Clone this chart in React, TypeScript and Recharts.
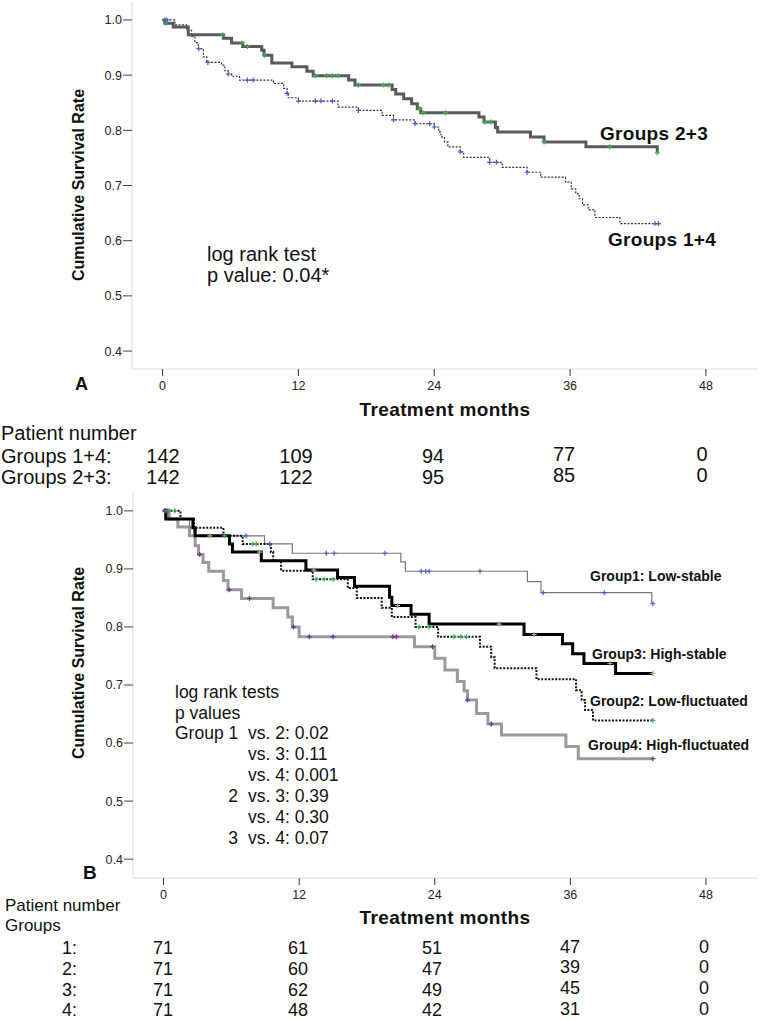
import React from 'react'
import { ComposedChart, Line, Scatter, XAxis, YAxis } from 'recharts'

const FONT = '"Liberation Sans", Arial, sans-serif'

// axis ticks shared by both panels
const monthTicks = [0, 12, 24, 36, 48]
const survTicks = [0.4, 0.5, 0.6, 0.7, 0.8, 0.9, 1.0]
const monthDomain: [number, number] = [-2.7, 52.6]
const survDomain: [number, number] = [0.3675, 1.0325]

// Panel A  [month, survival]
const groups23: [number, number][] = [
  [0, 1.0], [0.2, 0.994], [0.94, 0.987], [2.27, 0.973], [5.37, 0.967], [6.1, 0.958],
  [7.08, 0.952], [8.76, 0.945], [8.97, 0.936], [9.65, 0.922], [11.43, 0.915], [12.75, 0.907],
  [13.3, 0.899], [16.44, 0.891], [17.0, 0.882], [20.28, 0.874], [20.6, 0.866], [21.3, 0.857],
  [22.0, 0.848], [22.5, 0.839], [22.8, 0.832], [27.95, 0.824], [28.4, 0.815], [29.4, 0.805],
  [29.6, 0.797], [32.5, 0.788], [33.7, 0.779], [37.4, 0.77], [43.7, 0.759],
]
const groups14: [number, number][] = [
  [0, 1.0], [1.09, 0.991], [2.12, 0.981], [2.56, 0.97], [2.86, 0.959], [3.16, 0.948],
  [3.6, 0.933], [3.9, 0.923], [5.2, 0.918], [5.5, 0.908], [5.8, 0.902], [6.1, 0.898],
  [6.8, 0.891], [9.8, 0.885], [10.7, 0.876], [11.0, 0.867], [11.1, 0.859], [12.0, 0.853],
  [15.5, 0.842], [17.3, 0.836], [19.4, 0.827], [20.4, 0.819], [22.3, 0.812], [24.0, 0.806],
  [24.4, 0.797], [24.6, 0.788], [24.9, 0.779], [25.2, 0.77], [26.3, 0.761], [26.6, 0.751],
  [28.9, 0.742], [30.0, 0.733], [32.2, 0.724], [33.4, 0.715], [35.6, 0.706], [36.1, 0.694],
  [36.5, 0.685], [36.8, 0.676], [37.1, 0.665], [37.6, 0.656], [38.2, 0.642], [40.4, 0.631],
  [43.9, 0.631],
]
const groups23Censor = [0.3, 5.3, 7.0, 7.5, 9.0, 13.5, 14.5, 15.0, 15.5, 17.3, 19.5, 20.0, 22.7, 23.0, 25.0, 28.5, 29.0, 33.7, 39.5, 43.7]
const groups14Censor = [0.2, 0.4, 3.2, 4.0, 5.8, 7.5, 8.0, 11.0, 12.0, 13.5, 14.0, 15.0, 17.3, 20.4, 22.3, 23.6, 24.0, 26.3, 28.9, 29.5, 32.2, 43.5, 43.8]

// Panel B
const group1: [number, number][] = [
  [0, 1.0], [0.4, 0.986], [2.3, 0.971], [2.7, 0.957], [8.94, 0.943], [11.4, 0.927],
  [21.0, 0.912], [21.4, 0.896], [32.2, 0.878], [33.4, 0.859], [43.2, 0.84],
]
const group2: [number, number][] = [
  [0, 1.0], [1.5, 0.986], [2.7, 0.971], [5.3, 0.957], [7.0, 0.943], [9.5, 0.929],
  [9.7, 0.914], [10.4, 0.897], [13.2, 0.882], [16.3, 0.867], [17.1, 0.85], [19.3, 0.833],
  [20.2, 0.817], [22.3, 0.8], [24.3, 0.783], [28.0, 0.766], [29.0, 0.748], [29.3, 0.729],
  [33.0, 0.71], [36.5, 0.691], [37.0, 0.674], [37.3, 0.657], [38.0, 0.639], [43.3, 0.639],
]
const group3: [number, number][] = [
  [0, 1.0], [0.2, 0.986], [2.6, 0.971], [2.8, 0.957], [5.84, 0.943], [6.1, 0.929],
  [8.65, 0.914], [12.6, 0.898], [15.4, 0.885], [16.9, 0.87], [20.0, 0.851], [20.2, 0.837],
  [21.9, 0.822], [23.5, 0.805], [31.9, 0.787], [35.3, 0.771], [36.2, 0.754], [37.2, 0.737],
  [40.0, 0.72], [43.3, 0.72],
]
const group4: [number, number][] = [
  [0, 1.0], [0.5, 0.986], [1.27, 0.972], [2.3, 0.957], [2.8, 0.94], [3.1, 0.925],
  [3.5, 0.911], [4.0, 0.896], [5.3, 0.88], [5.7, 0.864], [6.9, 0.849], [9.7, 0.833],
  [11.0, 0.817], [11.4, 0.8], [12.0, 0.783], [22.2, 0.766], [24.0, 0.746], [24.9, 0.726],
  [26.0, 0.706], [26.6, 0.69], [26.9, 0.674], [27.7, 0.651], [28.7, 0.633], [29.9, 0.614],
  [35.6, 0.594], [36.7, 0.573], [43.3, 0.573],
]
const group1Censor = [0.2, 7.3, 9.4, 14.4, 15.1, 19.6, 22.8, 23.2, 23.5, 28.0, 33.6, 39.0, 43.3]
const group2Censor = [0.5, 1.0, 5.4, 7.9, 8.2, 13.5, 14.2, 15.0, 22.6, 23.5, 25.7, 26.3, 26.8, 43.3]
const group3Censor = [4.1, 8.5, 13.3, 20.7, 29.7, 32.8, 39.5, 43.3]
const group4Censor = [0.1, 0.3, 3.2, 5.8, 7.6, 11.5, 12.9, 15.0, 20.3, 20.6, 23.8, 26.9, 29.0, 43.3]

// number at risk
const riskLabelsA = ['Groups 1+4:', 'Groups 2+3:']
const riskA = [
  [142, 109, 94, 77, 0],
  [142, 122, 95, 85, 0],
]
const riskLabelsB = ['1:', '2:', '3:', '4:']
const riskB = [
  [71, 61, 51, 47, 0],
  [71, 60, 47, 39, 0],
  [71, 62, 49, 45, 0],
  [71, 48, 42, 31, 0],
]
const pValueLines = [
  ['Group 1', 'vs. 2: 0.02'],
  ['', 'vs. 3: 0.11'],
  ['', 'vs. 4: 0.001'],
  ['2', 'vs. 3: 0.39'],
  ['', 'vs. 4: 0.30'],
  ['3', 'vs. 4: 0.07'],
]

const toRows = (c: [number, number][]) => c.map(([t, s]) => ({ t, s }))
const survAt = (c: [number, number][], t: number) => {
  let s = c[0][1]
  for (const [ct, cs] of c) if (ct <= t) s = cs
  return s
}
const censorRows = (c: [number, number][], times: number[]) =>
  times.map((t) => ({ t, s: survAt(c, t) }))

const cross = (color: string) => (p: any) => {
  const { cx, cy } = p
  if (cx == null || cy == null) return <g />
  return (
    <path
      d={`M${cx - 2.5},${cy}H${cx + 2.5}M${cx},${cy - 2.5}V${cy + 2.5}`}
      stroke={color}
      strokeWidth={1.2}
    />
  )
}

interface CurveDef {
  data: [number, number][]
  censor: number[]
  stroke: string
  width: number
  dash?: string
  mark: string
}

function KMPanel({ top, marginTop, yAxisWidth, plotH, curves }: {
  top: number
  marginTop: number
  yAxisWidth: number
  plotH: number
  curves: CurveDef[]
}) {
  const tickStyle = { fontSize: 12.5, fill: '#222', fontFamily: FONT }
  return (
    <div style={{ position: 'absolute', left: 0, top }}>
      <ComposedChart
        width={761}
        height={marginTop + plotH + 30}
        margin={{ top: marginTop, right: 3, bottom: 0, left: 0 }}
      >
        <XAxis
          type="number"
          dataKey="t"
          domain={monthDomain}
          ticks={monthTicks}
          allowDataOverflow
          height={30}
          tickSize={7}
          tickMargin={5}
          axisLine={{ stroke: '#dcdcdc' }}
          tickLine={{ stroke: '#333' }}
          tick={tickStyle}
        />
        <YAxis
          type="number"
          domain={survDomain}
          ticks={survTicks}
          allowDataOverflow
          width={yAxisWidth}
          tickSize={9}
          tickMargin={1}
          axisLine={{ stroke: '#dcdcdc' }}
          tickLine={{ stroke: '#444' }}
          tick={tickStyle}
          tickFormatter={(v: number) => v.toFixed(1)}
        />
        {curves.map((c, i) => (
          <Line
            key={'l' + i}
            data={toRows(c.data)}
            dataKey="s"
            type="stepAfter"
            stroke={c.stroke}
            strokeWidth={c.width}
            strokeDasharray={c.dash}
            dot={false}
            activeDot={false}
            isAnimationActive={false}
          />
        ))}
        {curves.map((c, i) => (
          <Scatter
            key={'c' + i}
            data={censorRows(c.data, c.censor)}
            dataKey="s"
            shape={cross(c.mark)}
            isAnimationActive={false}
          />
        ))}
      </ComposedChart>
    </div>
  )
}

const T = ({ x, y, size, bold, anchor, spacing, children }: any) => (
  <text
    x={x}
    y={y}
    fontSize={size}
    fontWeight={bold ? 'bold' : 'normal'}
    textAnchor={anchor || 'start'}
    dominantBaseline="central"
    letterSpacing={spacing || 0}
    fill="#111"
    fontFamily={FONT}
  >
    {children}
  </text>
)

export default function App() {
  const colsA = [163, 296, 433, 564, 702]
  const colsB = [163, 298, 432, 570, 704]
  return (
    <div style={{ position: 'absolute', left: 0, top: 0, width: 761, height: 1020, background: '#fff', overflow: 'hidden' }}>
      <KMPanel
        top={0}
        marginTop={2}
        yAxisWidth={132}
        plotH={367}
        curves={[
          { data: groups14, censor: groups14Censor, stroke: '#333', width: 1.2, dash: '2 1.5', mark: '#4a5fc0' },
          { data: groups23, censor: groups23Censor, stroke: '#5a5a5a', width: 3, mark: '#3fae4a' },
        ]}
      />
      <KMPanel
        top={480}
        marginTop={12}
        yAxisWidth={133}
        plotH={386}
        curves={[
          { data: group4, censor: group4Censor, stroke: '#9a9a9a', width: 3, mark: '#7b2a8c' },
          { data: group1, censor: group1Censor, stroke: '#777', width: 1.2, mark: '#4a5fc0' },
          { data: group2, censor: group2Censor, stroke: '#111', width: 2, dash: '2 1.5', mark: '#3fae4a' },
          { data: group3, censor: group3Censor, stroke: '#000', width: 3, mark: '#b5b07a' },
        ]}
      />
      <svg width={761} height={1020} style={{ position: 'absolute', left: 0, top: 0, pointerEvents: 'none' }}>
        {/* panel A */}
        <g transform="rotate(-90 78 185)">
          <T x={78} y={185} size={16} bold anchor="middle">Cumulative Survival Rate</T>
        </g>
        <T x={207} y={254} size={20}>log rank test</T>
        <T x={207} y={275} size={20}>p value: 0.04*</T>
        <T x={600} y={133} size={19} bold spacing={0.3}>Groups 2+3</T>
        <T x={608} y={239} size={19} bold spacing={0.3}>Groups 1+4</T>
        <T x={75} y={384} size={18} bold>A</T>
        <T x={445} y={409} size={19} bold anchor="middle" spacing={0.4}>Treatment months</T>
        <T x={1} y={433} size={20}>Patient number</T>
        {riskLabelsA.map((lab, r) => (
          <g key={lab}>
            <T x={1} y={456 + r * 21} size={20}>{lab}</T>
            {riskA[r].map((n, c) => (
              <T key={c} x={colsA[c]} y={456 + r * 21 - (c >= 3 ? 2 : 0)} size={20} anchor="middle">{n}</T>
            ))}
          </g>
        ))}

        {/* panel B */}
        <g transform="rotate(-90 78 663)">
          <T x={78} y={663} size={16} bold anchor="middle">Cumulative Survival Rate</T>
        </g>
        <T x={590} y={576} size={14} bold>Group1: Low-stable</T>
        <T x={592} y={654} size={14} bold>Group3: High-stable</T>
        <T x={590} y={701} size={14} bold>Group2: Low-fluctuated</T>
        <T x={588} y={745} size={14} bold>Group4: High-fluctuated</T>
        <T x={175} y={692} size={17.5}>log rank tests</T>
        <T x={175} y={713} size={17.5}>p values</T>
        {pValueLines.map(([lead, rest], i) => (
          <g key={i}>
            {lead === 'Group 1' ? (
              <T x={175} y={733 + i * 21} size={17.5}>{lead}</T>
            ) : (
              <T x={238} y={733 + i * 21} size={17.5} anchor="end">{lead}</T>
            )}
            <T x={248} y={733 + i * 21} size={17.5}>{rest}</T>
          </g>
        ))}
        <T x={83} y={872} size={19} bold>B</T>
        <T x={445} y={917} size={19} bold anchor="middle" spacing={0.4}>Treatment months</T>
        <T x={5} y={905} size={17}>Patient number</T>
        <T x={5} y={925} size={17}>Groups</T>
        {riskLabelsB.map((lab, r) => (
          <g key={lab}>
            <T x={77} y={948 + r * 20.8} size={18} anchor="end">{lab}</T>
            {riskB[r].map((n, c) => (
              <T key={c} x={colsB[c]} y={948 + r * 20.8 - (c >= 3 ? 1.5 : 0)} size={18} anchor="middle">{n}</T>
            ))}
          </g>
        ))}
      </svg>
    </div>
  )
}
